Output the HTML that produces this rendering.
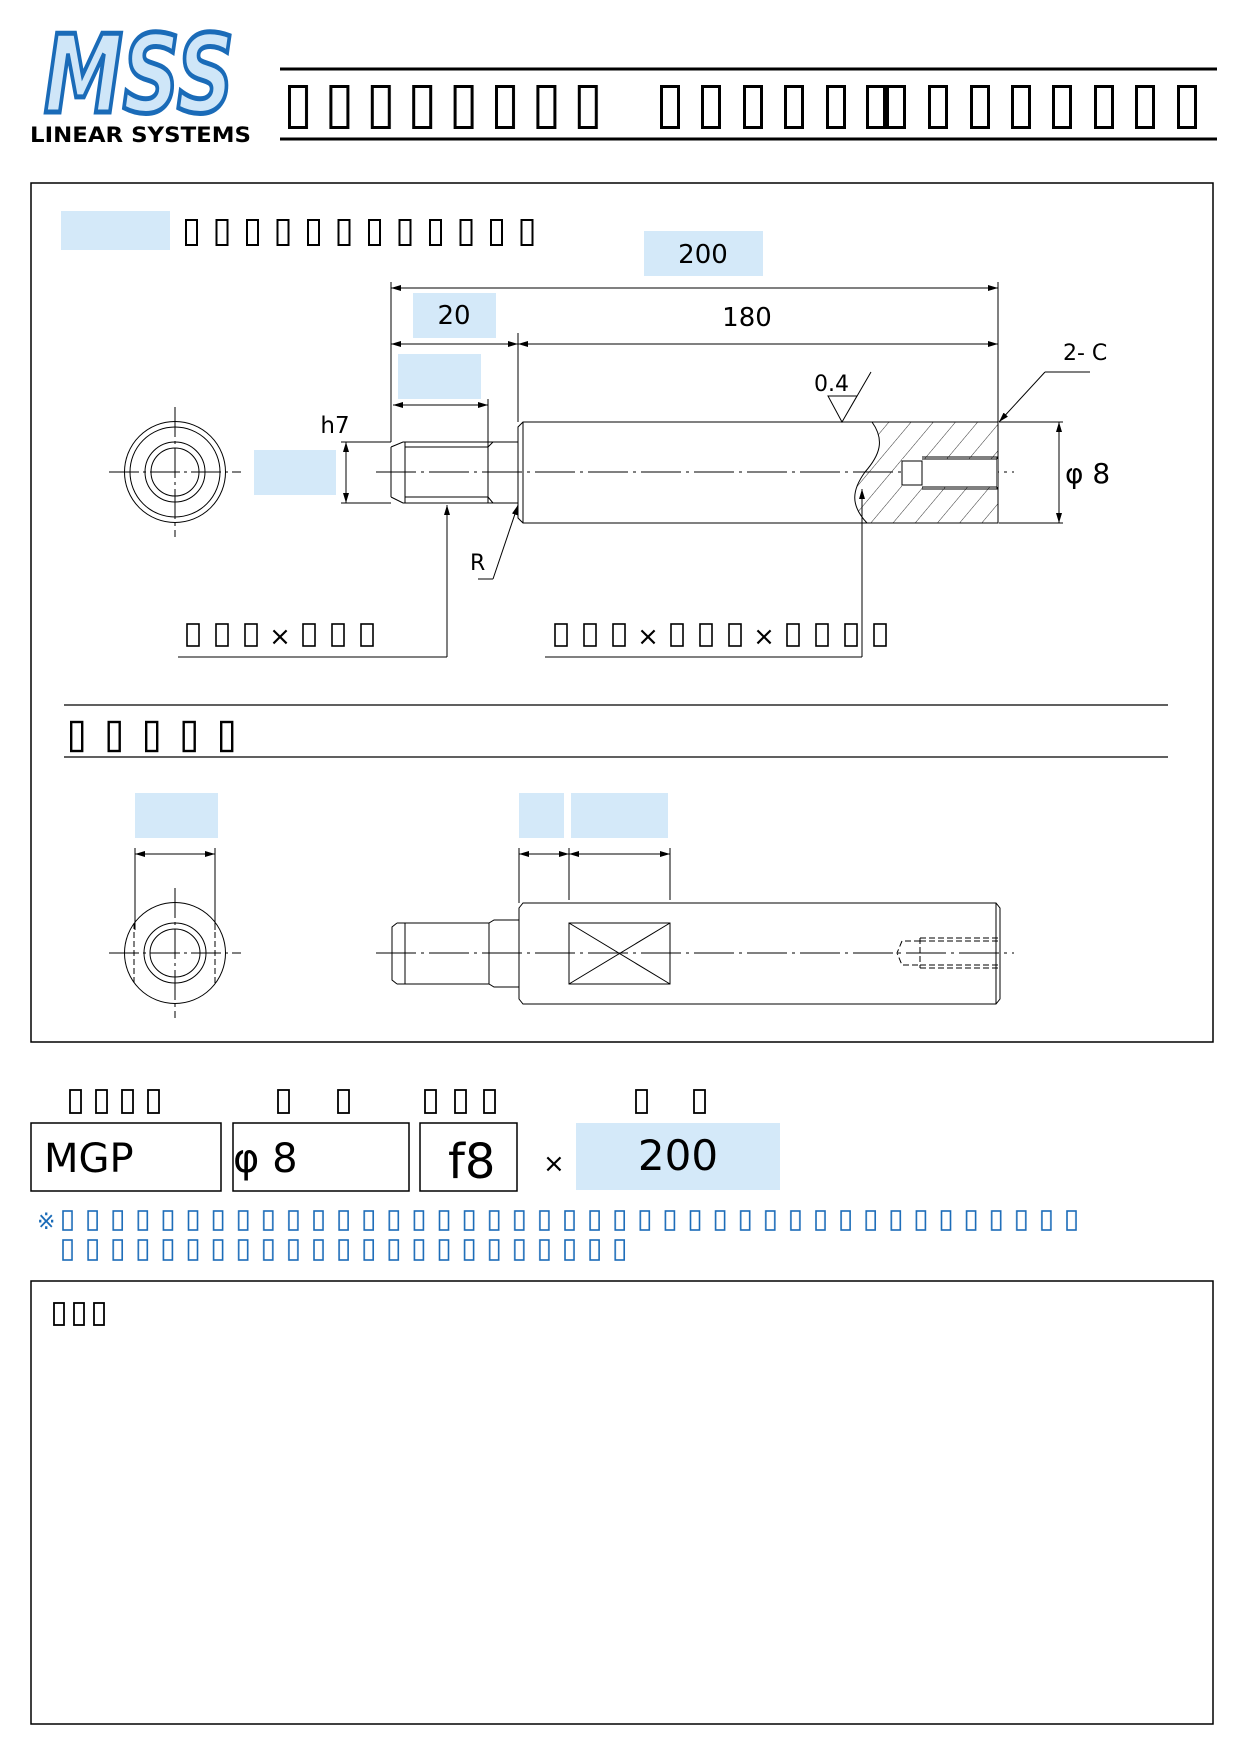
<!DOCTYPE html>
<html><head><meta charset="utf-8"><style>
html,body{margin:0;padding:0;background:#fff}
svg{display:block}
text{font-family:"DejaVu Sans","Liberation Sans",sans-serif}
</style></head><body>
<svg width="1242" height="1757" viewBox="0 0 1242 1757" xmlns="http://www.w3.org/2000/svg">
<defs>
<pattern id="tHead" x="288" y="0" width="41.4" height="1757" patternUnits="userSpaceOnUse"><rect x="1.5" y="86.5" width="17" height="41" fill="none" stroke="#000" stroke-width="3"/></pattern>
<pattern id="tSec" x="185" y="0" width="30.5" height="1757" patternUnits="userSpaceOnUse"><rect x="1" y="220" width="11" height="25" fill="none" stroke="#000" stroke-width="2"/></pattern>
<pattern id="tBig" x="70" y="0" width="37.5" height="1757" patternUnits="userSpaceOnUse"><rect x="1.2" y="722" width="11" height="29" fill="none" stroke="#000" stroke-width="2.4"/></pattern>
<pattern id="tLab" x="69" y="0" width="26" height="1757" patternUnits="userSpaceOnUse"><rect x="1" y="1090" width="11" height="23" fill="none" stroke="#000" stroke-width="1.8"/></pattern>
<pattern id="tBlue" x="62" y="0" width="25.1" height="1757" patternUnits="userSpaceOnUse"><rect x="1" y="1211" width="9" height="19" fill="none" stroke="#1a6bb8" stroke-width="1.6"/><rect x="1" y="1240" width="9" height="20" fill="none" stroke="#1a6bb8" stroke-width="1.6"/></pattern>
<pattern id="tBot" x="53" y="0" width="20" height="1757" patternUnits="userSpaceOnUse"><rect x="1" y="1303" width="10" height="22" fill="none" stroke="#000" stroke-width="1.8"/></pattern>
<pattern id="hatch" width="17" height="17" patternUnits="userSpaceOnUse" patternTransform="rotate(40)"><line x1="0" y1="0" x2="0" y2="17" stroke="#000" stroke-width="0.8"/></pattern>
<marker id="ar" viewBox="0 0 10 6" refX="10" refY="3" markerWidth="10" markerHeight="6" orient="auto-start-reverse" markerUnits="userSpaceOnUse"><path d="M0,0 L10,3 L0,6 z" fill="#000"/></marker>
</defs>

<!-- Logo -->
<text x="44" y="112" font-family="Liberation Sans" font-weight="bold" font-style="italic" font-size="108" fill="#cfe6f8" stroke="#1a6bb8" stroke-width="5" textLength="190" lengthAdjust="spacingAndGlyphs">MSS</text>
<text x="30" y="142" font-family="Liberation Sans" font-weight="bold" font-size="21" textLength="221" lengthAdjust="spacingAndGlyphs">LINEAR  SYSTEMS</text>

<!-- header -->
<line x1="280" y1="69" x2="1217" y2="69" stroke="#000" stroke-width="3"/>
<line x1="280" y1="139" x2="1217" y2="139" stroke="#000" stroke-width="3"/>
<rect x="288" y="80" width="331" height="55" fill="url(#tHead)"/>
<g fill="none" stroke="#000" stroke-width="3">
<rect x="661.5" y="86.5" width="17" height="41"/><rect x="702.5" y="86.5" width="17" height="41"/><rect x="744.5" y="86.5" width="17" height="41"/><rect x="785.5" y="86.5" width="17" height="41"/><rect x="827.5" y="86.5" width="17" height="41"/><rect x="867.5" y="86.5" width="17" height="41"/><rect x="887.5" y="86.5" width="17" height="41"/><rect x="929.5" y="86.5" width="17" height="41"/><rect x="971.5" y="86.5" width="17" height="41"/><rect x="1012.5" y="86.5" width="17" height="41"/><rect x="1053.5" y="86.5" width="17" height="41"/><rect x="1095.5" y="86.5" width="17" height="41"/><rect x="1136.5" y="86.5" width="17" height="41"/><rect x="1178.5" y="86.5" width="17" height="41"/>
</g>

<!-- main frame -->
<rect x="31" y="183" width="1182" height="859" fill="none" stroke="#000" stroke-width="1.5"/>

<rect x="61" y="211" width="109" height="39" fill="#d4e9f9"/>
<rect x="185" y="215" width="366" height="35" fill="url(#tSec)"/>

<rect x="644" y="231" width="119" height="45" fill="#d4e9f9"/>
<text x="703" y="263" font-size="26" text-anchor="middle">200</text>
<rect x="413" y="293" width="83" height="45" fill="#d4e9f9"/>
<text x="454" y="324" font-size="26" text-anchor="middle">20</text>
<rect x="398" y="354" width="83" height="45" fill="#d4e9f9"/>
<rect x="254" y="450" width="82" height="45" fill="#d4e9f9"/>
<text x="747" y="326" font-size="26" text-anchor="middle">180</text>

<g stroke="#000" stroke-width="1" fill="none">
<line x1="391" y1="288" x2="998" y2="288" marker-start="url(#ar)" marker-end="url(#ar)"/>
<line x1="391" y1="344" x2="518" y2="344" marker-start="url(#ar)" marker-end="url(#ar)"/>
<line x1="518" y1="344" x2="998" y2="344" marker-start="url(#ar)" marker-end="url(#ar)"/>
<line x1="393" y1="405" x2="488" y2="405" marker-start="url(#ar)" marker-end="url(#ar)"/>
<line x1="391" y1="282" x2="391" y2="442"/>
<line x1="998" y1="282" x2="998" y2="422"/>
<line x1="518" y1="333" x2="518" y2="422"/>
<line x1="488" y1="399" x2="488" y2="442"/>
<line x1="346" y1="442" x2="346" y2="503" marker-start="url(#ar)" marker-end="url(#ar)"/>
<line x1="341" y1="442" x2="391" y2="442"/>
<line x1="341" y1="503" x2="391" y2="503"/>
<path d="M391,447 L403,442 L518,442 M391,497 L403,503 L518,503 M391,447 V497 M405,442 V503 M488,442 V503 M405,447 H488 M405,497 H488 M488,447 L493,442 M488,497 L493,503"/>
<path d="M523,422 H998 V523 H523 L518,518 V427 Z"/>
<line x1="523" y1="422" x2="523" y2="523"/>
<line x1="376" y1="472" x2="1014" y2="472" stroke-dasharray="40,5,3,5"/>
<circle cx="175" cy="472" r="50.5"/><circle cx="175" cy="472" r="45"/><circle cx="175" cy="472" r="30"/><circle cx="175" cy="472" r="24"/>
<line x1="109" y1="472" x2="241" y2="472" stroke-dasharray="30,4,3,4"/>
<line x1="175" y1="407" x2="175" y2="537" stroke-dasharray="30,4,3,4"/>
<line x1="447" y1="657" x2="447" y2="505" marker-end="url(#ar)"/>
<line x1="178" y1="657" x2="447" y2="657"/>
<line x1="493" y1="579" x2="518" y2="505" marker-end="url(#ar)"/>
<line x1="478" y1="579" x2="493" y2="579"/>
<line x1="862" y1="657" x2="862" y2="489" marker-end="url(#ar)"/>
<line x1="545" y1="657" x2="862" y2="657"/>
<path d="M828,396 H857 L842,422 Z M842,422 L871,372"/>
<path d="M872,422 H998 V523 H867 C850,505 852,490 865,472 C880,455 885,440 872,422 Z" fill="url(#hatch)"/>
<rect x="902" y="459" width="96" height="28" fill="#fff" stroke="none"/>
<path d="M902,461 H922 V485 H902 Z M922,457 H997 V489 H922 M922,459 H997 M922,487 H997 M997,457 V489"/>
<line x1="1045" y1="372" x2="999" y2="422" marker-end="url(#ar)"/>
<line x1="1045" y1="372" x2="1090" y2="372"/>
<line x1="1059" y1="422" x2="1059" y2="523" marker-start="url(#ar)" marker-end="url(#ar)"/>
<line x1="999" y1="422" x2="1063" y2="422"/>
<line x1="999" y1="523" x2="1063" y2="523"/>
</g>
<text x="335" y="433" font-size="23" text-anchor="middle">h7</text>
<text x="470" y="570" font-size="22">R</text>
<text x="814" y="391" font-size="22">0.4</text>
<text x="1063" y="360" font-size="22">2- C</text>
<text x="1065" y="483" font-size="28">φ 8</text>
<g fill="none" stroke="#000" stroke-width="1.6">
<rect x="187" y="624" width="12" height="22"/><rect x="216" y="624" width="12" height="22"/><rect x="245" y="624" width="12" height="22"/>
<rect x="303" y="624" width="12" height="22"/><rect x="332" y="624" width="12" height="22"/><rect x="361" y="624" width="12" height="22"/>
<rect x="555" y="624" width="12" height="22"/><rect x="584" y="624" width="12" height="22"/><rect x="613" y="624" width="12" height="22"/>
<rect x="671" y="624" width="12" height="22"/><rect x="700" y="624" width="12" height="22"/><rect x="729" y="624" width="12" height="22"/>
<rect x="787" y="624" width="12" height="22"/><rect x="816" y="624" width="12" height="22"/><rect x="845" y="624" width="12" height="22"/><rect x="874" y="624" width="12" height="22"/>
</g>
<text x="280" y="645" font-size="26" text-anchor="middle">×</text><text x="648" y="645" font-size="26" text-anchor="middle">×</text><text x="764" y="645" font-size="26" text-anchor="middle">×</text>

<!-- section 2 -->
<line x1="64" y1="705" x2="1168" y2="705" stroke="#000" stroke-width="1.3"/>
<line x1="64" y1="757" x2="1168" y2="757" stroke="#000" stroke-width="1.3"/>
<rect x="70" y="718" width="187.5" height="36" fill="url(#tBig)"/>

<rect x="135" y="793" width="83" height="45" fill="#d4e9f9"/>
<rect x="519" y="793" width="45" height="45" fill="#d4e9f9"/>
<rect x="571" y="793" width="97" height="45" fill="#d4e9f9"/>
<g stroke="#000" stroke-width="1" fill="none">
<line x1="135" y1="854" x2="215" y2="854" marker-start="url(#ar)" marker-end="url(#ar)"/>
<line x1="135" y1="848" x2="135" y2="930"/><line x1="215" y1="848" x2="215" y2="930"/>
<line x1="519" y1="854" x2="569" y2="854" marker-start="url(#ar)" marker-end="url(#ar)"/>
<line x1="569" y1="854" x2="670" y2="854" marker-start="url(#ar)" marker-end="url(#ar)"/>
<line x1="519" y1="848" x2="519" y2="903"/><line x1="569" y1="848" x2="569" y2="900"/><line x1="670" y1="848" x2="670" y2="900"/>
<circle cx="175" cy="953" r="50.5"/>
<ellipse cx="175" cy="953" rx="31" ry="30"/><ellipse cx="175" cy="953" rx="25" ry="24"/>
<line x1="134" y1="923" x2="134" y2="983" stroke-dasharray="6,3"/><line x1="215" y1="923" x2="215" y2="983" stroke-dasharray="6,3"/>
<line x1="109" y1="953" x2="241" y2="953" stroke-dasharray="30,4,3,4"/>
<line x1="175" y1="888" x2="175" y2="1018" stroke-dasharray="30,4,3,4"/>
<path d="M523,903 H996 L1000,908 V999 L996,1004 H523 L519,999 V908 Z"/>
<line x1="996" y1="903" x2="996" y2="1004"/>
<path d="M397,923 H489 L494,920 H519 M397,984 H489 L494,987 H519 M397,923 L392,927 V980 L397,984 M405,923 V984 M489,923 V984"/>
<rect x="569" y="923" width="101" height="61"/>
<path d="M569,923 L670,984 M670,923 L569,984"/>
<path d="M920,938 H998 M920,968 H998 M920,938 V968 M920,941 L902,941 L897,953 L902,965 L920,965 M920,941 H998 M920,965 H998" stroke-dasharray="6,3"/>
<line x1="376" y1="953" x2="1014" y2="953" stroke-dasharray="40,5,3,5"/>
</g>

<!-- order form -->
<rect x="69" y="1086" width="104" height="30" fill="url(#tLab)"/>
<g fill="none" stroke="#000" stroke-width="1.8">
<rect x="278" y="1090" width="11" height="23"/><rect x="338" y="1090" width="11" height="23"/>
<rect x="425" y="1090" width="11" height="23"/><rect x="455" y="1090" width="11" height="23"/><rect x="484" y="1090" width="11" height="23"/>
<rect x="636" y="1090" width="11" height="23"/><rect x="694" y="1090" width="11" height="23"/>
</g>
<g fill="#fff" stroke="#000" stroke-width="1.5">
<rect x="31" y="1123" width="190" height="68"/>
<rect x="233" y="1123" width="176" height="68"/>
<rect x="420" y="1123" width="97" height="68"/>
</g>
<rect x="576" y="1123" width="204" height="67" fill="#d4e9f9"/>
<text x="44" y="1172" font-size="40">MGP</text>
<text x="233" y="1172" font-size="40">φ 8</text>
<text x="448" y="1178" font-size="48">f8</text>
<text x="543" y="1172" font-size="26">×</text>
<text x="678" y="1170" font-size="42" text-anchor="middle">200</text>

<text x="37" y="1229" font-size="22" fill="#1a6bb8">※</text>
<rect x="62" y="1208" width="1029" height="24" fill="url(#tBlue)"/>
<rect x="62" y="1236" width="577" height="27" fill="url(#tBlue)"/>

<rect x="31" y="1281" width="1182" height="443" fill="none" stroke="#000" stroke-width="1.5"/>
<rect x="53" y="1300" width="60" height="28" fill="url(#tBot)"/>
</svg>
</body></html>
